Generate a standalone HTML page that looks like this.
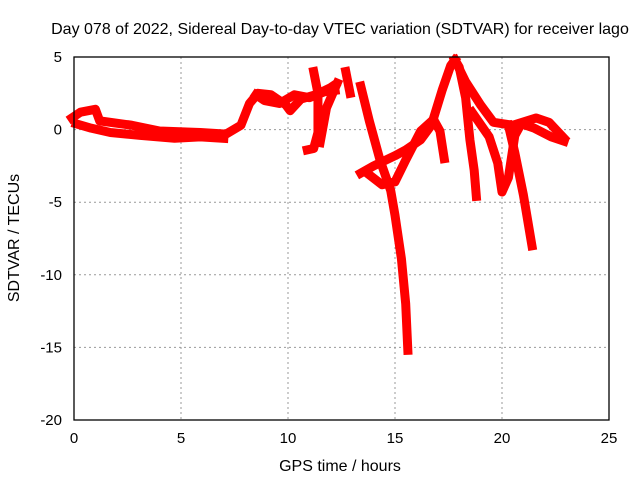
<!DOCTYPE html>
<html><head><meta charset="utf-8"><style>
body{margin:0;background:#fff}
svg{font-family:"Liberation Sans",sans-serif;font-size:15px}
</style></head><body>
<svg id="c" width="640" height="480">
<text x="340" y="34" text-anchor="middle" style="font-size:16px">Day 078 of 2022, Sidereal Day-to-day VTEC variation (SDTVAR) for receiver lago</text>
<text x="340" y="471" text-anchor="middle" style="font-size:16px">GPS time / hours</text>
<text transform="translate(19,238) rotate(-90)" text-anchor="middle" style="font-size:16px">SDTVAR / TECUs</text>
<g id="grid"></g><g id="marks"></g>
<rect x="74" y="57" width="535" height="363" fill="none" stroke="#000" stroke-width="1.3"/>
</svg>
<script>
const xTicks=[0,5,10,15,20,25];
const yTicks=[5,0,-5,-10,-15,-20];
const trackA=[[-0.1,0.8],[0.3,1.2],[1,1.4],[1.2,0.6],[2.7,0.3],[4,-0.1],[5.9,-0.2],[7,-0.3]];
const trackB=[[0.1,0.4],[0.8,0.1],[1.7,-0.2],[3.1,-0.4],[4.7,-0.6],[5.9,-0.5],[7,-0.6]];
const trackC=[[7,-0.4],[7.8,0.3],[8.2,1.8],[8.6,2.5],[9.2,2.4],[9.9,1.7],[10.1,1.3],[10.6,2.1],[11.3,2.4],[12,2.9],[12.2,3.1]];
const trackD=[[8.5,2.4],[8.9,2.0],[9.6,1.8],[10.3,2.4],[11,2.2],[11.7,2.6],[12.2,2.7]];
const trackE=[[11.2,4],[11.4,2.5],[11.4,-0.2],[11.2,-1.3],[10.9,-1.4]];
const trackF=[[11.5,-0.9],[11.8,1.5],[12.3,3.2]];
const trackG=[[12.7,4],[12.9,2.5]];
const trackH=[[13.4,3],[13.8,0.6],[14.3,-2.1],[14.8,-4.2],[15,-5.9],[15.3,-8.9],[15.5,-12],[15.6,-15.2]];
const trackI=[[13.4,-3],[14,-2.5],[15,-1.8],[15.5,-1.4],[16.2,-0.7],[16.7,0.3],[17.2,2.7],[17.6,4.4],[17.8,4.8]];
const trackJ=[[13.7,-3],[14.4,-3.8],[15,-3.6],[15.5,-2.1],[16.2,-0.1],[16.8,0.7],[17.1,-0.1],[17.3,-2]];
const trackK=[[17.8,4.8],[18,4.3],[18.3,2.2],[18.5,-0.7],[18.7,-2.8],[18.8,-4.6]];
const trackL=[[17.8,4.8],[18.3,3.3],[19,1.7],[19.6,0.5],[20.5,0.3],[21.6,0.8],[22.2,0.5],[22.9,-0.6]];
const trackM=[[18.6,1.2],[19.4,-0.5],[19.8,-2.3],[20,-4.3],[20.3,-3.3],[20.6,-0.4],[20.9,0.4],[21.5,0.1],[22.3,-0.5],[22.9,-0.8]];
const trackN=[[20.3,0.3],[20.6,-1.6],[21,-4.5],[21.4,-8]];
const tracks=[trackA,trackB,trackC,trackD,trackE,trackF,trackG,trackH,trackI,trackJ,trackK,trackL,trackM,trackN];
const xs=h=>74+h*535/25, ys=v=>57+(5-v)*363/25;
const NS="http://www.w3.org/2000/svg";
const grid=document.getElementById('grid'), marks=document.getElementById('marks');
xTicks.forEach(t=>{
 const x=xs(t);
 if(t>0&&t<25){const l=document.createElementNS(NS,'line');l.setAttribute('x1',x);l.setAttribute('x2',x);l.setAttribute('y1',57);l.setAttribute('y2',420);l.setAttribute('stroke','#999');l.setAttribute('stroke-dasharray','2,3');
 
 grid.appendChild(l);}
 const tx=document.createElementNS(NS,'text');tx.setAttribute('x',x);tx.setAttribute('y',443);tx.setAttribute('text-anchor','middle');tx.textContent=t;
 
 grid.appendChild(tx);
});
yTicks.forEach(t=>{
 const y=ys(t);
 if(t<5&&t>-20){const l=document.createElementNS(NS,'line');l.setAttribute('x1',74);l.setAttribute('x2',609);l.setAttribute('y1',y);l.setAttribute('y2',y);l.setAttribute('stroke','#999');l.setAttribute('stroke-dasharray','2,3');
 
 grid.appendChild(l);}
 const tx=document.createElementNS(NS,'text');tx.setAttribute('x',62);tx.setAttribute('y',y+5);tx.setAttribute('text-anchor','end');tx.textContent=t;
 
 grid.appendChild(tx);
});
tracks.forEach(tr=>{
 const p=document.createElementNS(NS,'polyline');
 p.setAttribute('points',tr.map(d=>xs(d[0])+','+ys(d[1])).join(' '));
 p.setAttribute('fill','none');p.setAttribute('stroke','#f00');p.setAttribute('stroke-width','9');p.setAttribute('stroke-linejoin','round');p.setAttribute('stroke-linecap','square');
 
 
 marks.appendChild(p);
});
</script>
</body></html>
